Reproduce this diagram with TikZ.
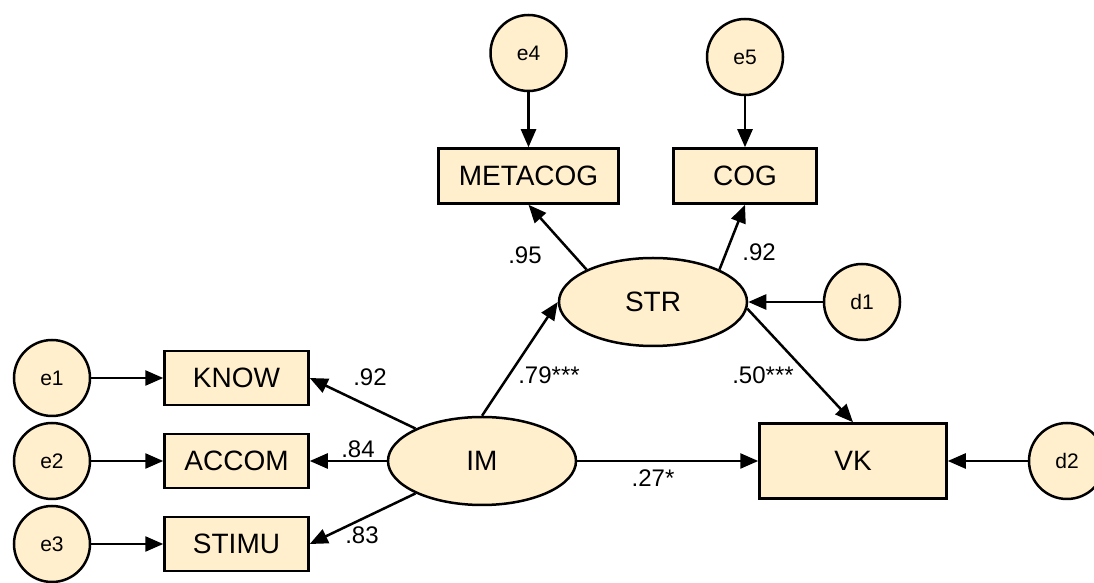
\documentclass[tikz,border=0pt]{standalone}
\usepackage{fontspec}
\setmainfont{Liberation Sans}
\usepackage{tikz}
\usetikzlibrary{shapes,arrows.meta,positioning}
\definecolor{cream}{RGB}{255,239,204}
\tikzstyle{latent}=[ellipse,draw=black,line width=2.5pt,fill=cream,inner sep=0pt,minimum width=188pt,minimum height=88pt,font=\fontsize{28}{30}\selectfont]
\tikzstyle{manifest}=[rectangle,draw=black,line width=2.5pt,fill=cream,inner sep=0pt,minimum width=144pt,minimum height=54pt,font=\fontsize{28}{30}\selectfont]
\tikzstyle{resid}=[circle,draw=black,line width=2.5pt,fill=cream,inner sep=0pt,minimum size=76pt,font=\fontsize{21}{23}\selectfont]
\tikzstyle{coef}=[-{Triangle[length=18pt,width=15pt]},line width=2.5pt]
\tikzstyle{est}=[inner sep=0pt,font=\fontsize{24}{26}\selectfont]

\begin{document}
\begin{tikzpicture}[x=1pt,y=1pt,on grid]
    \useasboundingbox (0,0) rectangle (1094,583);

    % Knoten
    \node[latent] (lat1) at (482,122) {IM};
    \node[latent] (lat2) [above right=159pt and 171pt of lat1] {STR};
    \node[manifest, minimum width=180pt, minimum height=55pt] (obs1) [above left=126pt and 124.5pt of lat2] {METACOG};
    \node[manifest, minimum width=143pt, minimum height=55pt] (obs2) [above right=126pt and 92pt of lat2] {COG};
    \node[resid] (err4) [above=123pt of obs1] {e4};
    \node[resid] (err5) [above=119pt of obs2] {e5};
    \node[resid] (dis1) [right=209pt of lat2] {d1};
    \node[manifest, minimum width=187pt, minimum height=75pt] (obs6) [right=371pt of lat1] {VK};
    \node[resid] (dis2) [right=214pt of obs6] {d2};
    \node[manifest] (obs4) [left=245.5pt of lat1] {ACCOM};
    \node[manifest] (obs3) [above=83pt of obs4] {KNOW};
    \node[manifest] (obs5) [below=83pt of obs4] {STIMU};
    \node[resid] (err1) [left=184.5pt of obs3] {e1};
    \node[resid] (err2) [left=184.5pt of obs4] {e2};
    \node[resid] (err3) [left=184.5pt of obs5] {e3};

    % Pfade
    \draw [coef] (err4) to (obs1);
    \draw [coef] (err5) to (obs2);
    \draw [coef] (lat2.154) to (obs1.south);
    \draw [coef] (lat2.26) to (obs2.south);
    \draw [coef] (dis1) to (lat2);
    \draw [coef] (lat2.-4) to (obs6.north);
    \draw [coef] (lat1.north) to (lat2.west);
    \draw [coef] (lat1) to (obs6);
    \draw [coef] (dis2) to (obs6);
    \draw [coef] (lat1.154) to (obs3.east);
    \draw [coef] (lat1) to (obs4);
    \draw [coef] (lat1.206) to (obs5.east);
    \draw [coef] (err1) to (obs3);
    \draw [coef] (err2) to (obs4);
    \draw [coef] (err3) to (obs5);

    % Koeffizienten
    \node[est] (w1) at (525,328) {.95};
    \node[est] (w2) at (759,331) {.92};
    \node[est] (w3) at (549,208) {.79***};
    \node[est] (w4) at (763,208) {.50***};
    \node[est] (w5) at (370,206) {.92};
    \node[est] (w6) at (358,134) {.84};
    \node[est] (w7) at (362,48) {.83};
    \node[est] (w8) at (653,105) {.27*};

\end{tikzpicture}
\end{document}
